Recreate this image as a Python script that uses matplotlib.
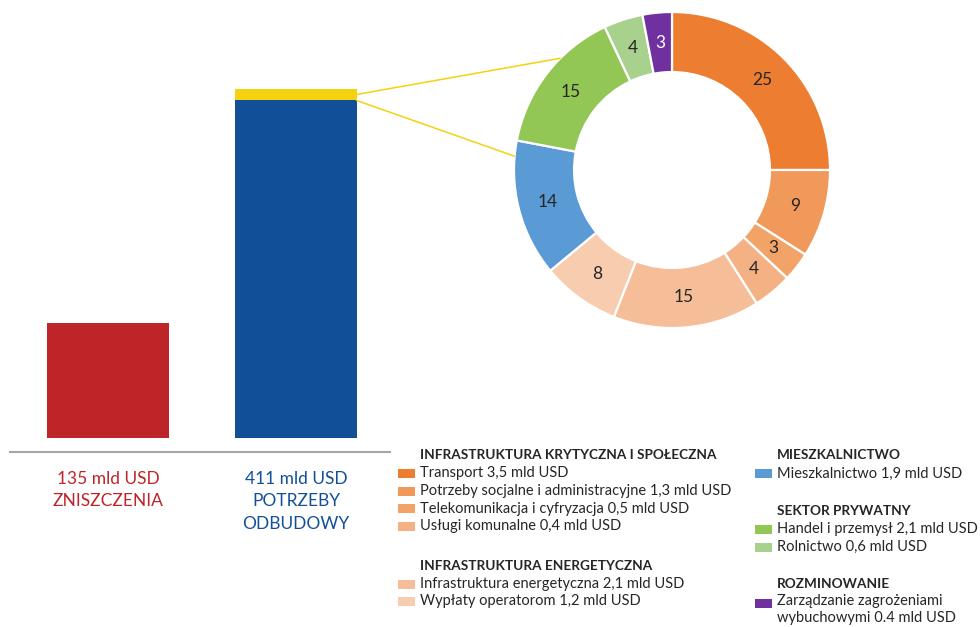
import numpy as np
import matplotlib
matplotlib.use('Agg')
import matplotlib.pyplot as plt
from matplotlib.patches import Rectangle, ConnectionPatch

plt.rcParams['font.family'] = ['Lato', 'DejaVu Sans']

# left bars: damage vs. reconstruction needs (bn USD)
bar_values = [135, 411]
bar_lines = [['135 mld USD', 'ZNISZCZENIA'], ['411 mld USD', 'POTRZEBY', 'ODBUDOWY']]
bar_colors = ['#BE2528', '#114F99']

# donut shares (%) clockwise from 12 o'clock
donut_values = [25, 9, 3, 4, 15, 8, 14, 15, 4, 3]
donut_colors = ['#ED7D31', '#F0995A', '#F2A468', '#F4B183', '#F6BE98', '#F8CCAE',
                '#5B9BD5', '#92C655', '#A9D18E', '#7030A0']

# legend groups: (heading, [(label, colour), ...])
groups_left = [
    ('INFRASTRUKTURA KRYTYCZNA I SPOŁECZNA', [
        ('Transport 3,5 mld USD', '#ED7D31'),
        ('Potrzeby socjalne i administracyjne 1,3 mld USD', '#F0995A'),
        ('Telekomunikacja i cyfryzacja 0,5 mld USD', '#F2A468'),
        ('Usługi komunalne 0,4 mld USD', '#F4B183')]),
    ('INFRASTRUKTURA ENERGETYCZNA', [
        ('Infrastruktura energetyczna 2,1 mld USD', '#F6BE98'),
        ('Wypłaty operatorom 1,2 mld USD', '#F8CCAE')]),
]
groups_right = [
    ('MIESZKALNICTWO', [('Mieszkalnictwo 1,9 mld USD', '#5B9BD5')]),
    ('SEKTOR PRYWATNY', [('Handel i przemysł 2,1 mld USD', '#92C655'),
                         ('Rolnictwo 0,6 mld USD', '#A9D18E')]),
    ('ROZMINOWANIE', [('Zarządzanie zagrożeniami\nwybuchowymi 0.4 mld USD', '#7030A0')]),
]
# bn USD split shown in the donut (yellow slice of the blue bar)
detail_values = [3.5, 1.3, 0.5, 0.4, 2.1, 1.2, 1.9, 2.1, 0.6, 0.4]

W, H = 980, 627
fig = plt.figure(figsize=(W / 100, H / 100), dpi=100)


def fx(x):
    return x / W


def fy(y):
    return 1 - y / H


# ---- bars ----
ax = fig.add_axes([fx(10), fy(452), 380 / W, 412 / H])
detail = sum(detail_values)
ax.bar(0, bar_values[0], width=0.644, color=bar_colors[0])
ax.bar(1, bar_values[1] - detail, width=0.644, color=bar_colors[1])
ax.bar(1, detail, bottom=bar_values[1] - detail, width=0.644, color='#F5D20F')
ax.set_xlim(-0.521, 1.5)
ax.set_ylim(-16.6, -16.6 + 412 / 0.85)
for s in ['top', 'right', 'left']:
    ax.spines[s].set_visible(False)
ax.spines['bottom'].set_color('#A6A6A6')
ax.spines['bottom'].set_linewidth(1.5)
ax.set_xticks([])
ax.set_yticks([])

for i, lines in enumerate(bar_lines):
    ax.annotate('\n'.join(lines), xy=(i, 0), xycoords=ax.get_xaxis_transform(),
                xytext=(0, -13.5), textcoords='offset points', ha='center', va='top',
                fontsize=12.5, color=bar_colors[i], linespacing=1.5)

# ---- donut ----
r_px = 158
ax2 = fig.add_axes([fx(672 - r_px), fy(170 + r_px), 2 * r_px / W, 2 * r_px / H])
wedges, _ = ax2.pie(donut_values, colors=donut_colors, startangle=90, counterclock=False,
                    radius=1, wedgeprops=dict(width=0.38, edgecolor='white', linewidth=1.6))
ax2.set_xlim(-1, 1)
ax2.set_ylim(-1, 1)
ax2.set_aspect('equal')
ax2.axis('off')
for w, v, c in zip(wedges, donut_values, donut_colors):
    mid = np.deg2rad((w.theta1 + w.theta2) / 2)
    ax2.text(0.81 * np.cos(mid), 0.81 * np.sin(mid), str(v), ha='center', va='center',
             fontsize=12.5, color='white' if c == '#7030A0' else '#262626')

# yellow connector lines from the bar slice to the donut
bar_right = 1 + 0.322
for yv, ang in [(bar_values[1] - detail / 2, 135), (bar_values[1] - detail, 175)]:
    a = np.deg2rad(ang)
    con = ConnectionPatch(xyA=(bar_right, yv), coordsA=ax.transData,
                          xyB=(np.cos(a), np.sin(a)), coordsB=ax2.transData,
                          color='#F5D20F', lw=1.1)
    fig.add_artist(con)


# ---- legend ----
def draw_group(x, y, heading, items):
    fig.text(fx(x + 22), fy(y), heading, fontsize=9.8, fontweight='bold',
             color='#262626', va='center')
    y += 18.5
    for label, c in items:
        fig.add_artist(Rectangle((fx(x), fy(y + 4.5)), 17 / W, 9 / H,
                                 transform=fig.transFigure, color=c, lw=0))
        if '\n' in label:
            fig.text(fx(x + 22), fy(y - 9), label, fontsize=10.5, color='#262626',
                     va='top', linespacing=1.3)
        else:
            fig.text(fx(x + 22), fy(y), label, fontsize=10.5, color='#262626',
                     va='center')
        y += 17.5
    return y


y = 455
for heading, items in groups_left:
    y = draw_group(398, y, heading, items) + 22
y = 455
for heading, items in groups_right:
    y = draw_group(755, y, heading, items) + 20

fig.savefig('out.png', dpi=100)
